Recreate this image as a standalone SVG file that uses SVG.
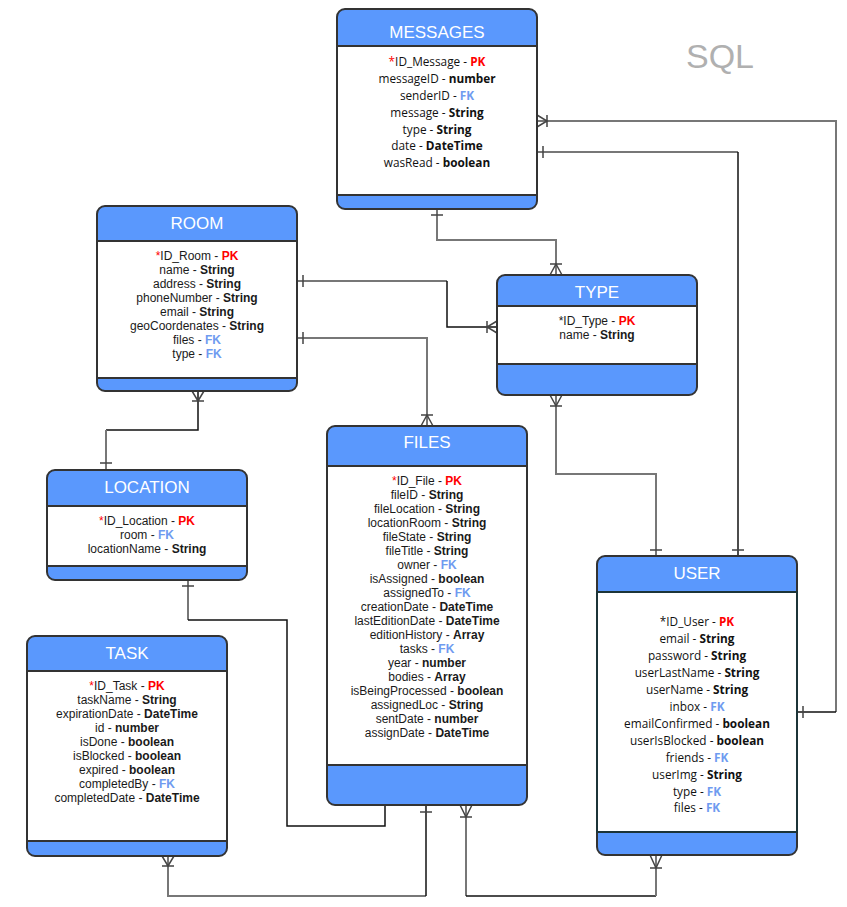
<svg xmlns="http://www.w3.org/2000/svg" width="847" height="907" viewBox="0 0 847 907">
<style>
.hdr{fill:#5a98fd;stroke:#333;stroke-width:2}
.body{fill:#fff;stroke:#333;stroke-width:2}
.ttl{font-family:"Liberation Sans",Arial,sans-serif;font-size:17px;fill:#fff;text-anchor:middle}
.f{font-family:"Liberation Sans",Arial,sans-serif;font-size:12px;fill:#1a1a1a;text-anchor:middle}
.f2{font-family:"Open Sans","Noto Sans",sans-serif;font-size:11.8px;fill:#111;text-anchor:middle}
.b{font-weight:bold}
.pk{font-weight:bold;fill:#ff0000}
.fk{font-weight:bold;fill:#6f9bf0}
.st{fill:#ff0000}
.c{fill:none;stroke:#777;stroke-width:2}
.k{fill:none;stroke:#111;stroke-width:1.5}
.d{fill:none;stroke:#444;stroke-width:1.5}
</style>
<rect width="847" height="907" fill="#fff"/>
<text x="720" y="68" font-family="'Liberation Sans',Arial,sans-serif" font-size="34" fill="#b0b0b0" text-anchor="middle">SQL</text>

<g id="connectors">
<!-- MESSAGES - TYPE -->
<path class="c" d="M437 209V240H556V275"/>
<path class="d" d="M431 215H443M550 264H562M550 275L556 264L562 275"/>
<!-- ROOM - TYPE -->
<path class="c" d="M297 281H447"/>
<path class="k" d="M447 281V327H497"/>
<path class="d" d="M303 275V287M487 321V333M497 321L487 327L497 333"/>
<!-- ROOM - FILES -->
<path class="c" d="M297 338H427V426"/>
<path class="d" d="M303 332V344M421 415H433M421 426L427 415L433 426"/>
<!-- ROOM - LOCATION -->
<path class="k" d="M198 391V430H106"/>
<path class="c" d="M106 430V470"/>
<path class="d" d="M192 401H204M192 391L198 401L204 391M100 463H112"/>
<!-- LOCATION - FILES -->
<path class="c" d="M188 580V620"/>
<path class="k" d="M188 620H287V826H385V805"/>
<path class="d" d="M182 586H194"/>
<!-- TASK - FILES -->
<path class="c" d="M168 856V896H426"/>
<path class="k" d="M426 896V805"/>
<path class="d" d="M162 866H174M162 856L168 866L174 856M420 812H432"/>
<!-- FILES - USER -->
<path class="c" d="M466 805V896"/>
<path class="k" d="M466 896H656"/>
<path class="c" d="M656 896V855"/>
<path class="d" d="M460 817H472M460 805L466 817L472 805M650 868H662M650 855L656 868L662 855"/>
<!-- TYPE - USER -->
<path class="c" d="M556 395V474H656V556"/>
<path class="d" d="M550 406H562M550 395L556 406L562 395M650 550H662"/>
<!-- MESSAGES - USER (inbox) -->
<path class="c" d="M537 121H836V712"/>
<path class="k" d="M836 712H797"/>
<path class="d" d="M547 115V127M537 115L547 121L537 127M803 706V718"/>
<!-- MESSAGES - USER -->
<path class="c" d="M537 152H738"/>
<path class="k" d="M738 152V556"/>
<path class="d" d="M543 146V158M732 550H744"/>
</g>

<g id="messages">
<rect class="hdr" x="337" y="9" width="200" height="200" rx="8"/>
<rect class="body" x="337" y="46" width="200" height="149"/>
<text class="ttl" x="437" y="38">MESSAGES</text>
<text class="f2" x="437" y="66"><tspan class="st">*</tspan>ID_Message - <tspan class="pk">PK</tspan></text>
<text class="f2" x="437" y="83">messageID - <tspan class="b">number</tspan></text>
<text class="f2" x="437" y="100">senderID - <tspan class="fk">FK</tspan></text>
<text class="f2" x="437" y="117">message - <tspan class="b">String</tspan></text>
<text class="f2" x="437" y="134">type - <tspan class="b">String</tspan></text>
<text class="f2" x="437" y="150">date - <tspan class="b">DateTime</tspan></text>
<text class="f2" x="437" y="167">wasRead - <tspan class="b">boolean</tspan></text>
</g>

<g id="room">
<rect class="hdr" x="97" y="206" width="200" height="185" rx="8"/>
<rect class="body" x="97" y="241" width="200" height="137"/>
<text class="ttl" x="197" y="229">ROOM</text>
<text class="f" x="197" y="260"><tspan class="st">*</tspan>ID_Room - <tspan class="pk">PK</tspan></text>
<text class="f" x="197" y="274">name - <tspan class="b">String</tspan></text>
<text class="f" x="197" y="288">address - <tspan class="b">String</tspan></text>
<text class="f" x="197" y="302">phoneNumber - <tspan class="b">String</tspan></text>
<text class="f" x="197" y="316">email - <tspan class="b">String</tspan></text>
<text class="f" x="197" y="330">geoCoordenates - <tspan class="b">String</tspan></text>
<text class="f" x="197" y="344">files - <tspan class="fk">FK</tspan></text>
<text class="f" x="197" y="358">type - <tspan class="fk">FK</tspan></text>
</g>

<g id="type">
<rect class="hdr" x="497" y="275" width="200" height="120" rx="8"/>
<rect class="body" x="497" y="306" width="200" height="58"/>
<text class="ttl" x="597" y="298">TYPE</text>
<text class="f" x="597" y="325">*ID_Type - <tspan class="pk">PK</tspan></text>
<text class="f" x="597" y="339">name - <tspan class="b">String</tspan></text>
</g>

<g id="location">
<rect class="hdr" x="47" y="470" width="200" height="110" rx="8"/>
<rect class="body" x="47" y="506" width="200" height="60"/>
<text class="ttl" x="147" y="493">LOCATION</text>
<text class="f" x="147" y="525"><tspan class="st">*</tspan>ID_Location - <tspan class="pk">PK</tspan></text>
<text class="f" x="147" y="539">room - <tspan class="fk">FK</tspan></text>
<text class="f" x="147" y="553">locationName - <tspan class="b">String</tspan></text>
</g>

<g id="files">
<rect class="hdr" x="327" y="426" width="200" height="379" rx="8"/>
<rect class="body" x="327" y="466" width="200" height="299"/>
<text class="ttl" x="427" y="448">FILES</text>
<text class="f" x="427" y="485"><tspan class="st">*</tspan>ID_File - <tspan class="pk">PK</tspan></text>
<text class="f" x="427" y="499">fileID - <tspan class="b">String</tspan></text>
<text class="f" x="427" y="513">fileLocation - <tspan class="b">String</tspan></text>
<text class="f" x="427" y="527">locationRoom - <tspan class="b">String</tspan></text>
<text class="f" x="427" y="541">fileState - <tspan class="b">String</tspan></text>
<text class="f" x="427" y="555">fileTitle - <tspan class="b">String</tspan></text>
<text class="f" x="427" y="569">owner - <tspan class="fk">FK</tspan></text>
<text class="f" x="427" y="583">isAssigned - <tspan class="b">boolean</tspan></text>
<text class="f" x="427" y="597">assignedTo - <tspan class="fk">FK</tspan></text>
<text class="f" x="427" y="611">creationDate - <tspan class="b">DateTime</tspan></text>
<text class="f" x="427" y="625">lastEditionDate - <tspan class="b">DateTime</tspan></text>
<text class="f" x="427" y="639">editionHistory - <tspan class="b">Array</tspan></text>
<text class="f" x="427" y="653">tasks - <tspan class="fk">FK</tspan></text>
<text class="f" x="427" y="667">year - <tspan class="b">number</tspan></text>
<text class="f" x="427" y="681">bodies - <tspan class="b">Array</tspan></text>
<text class="f" x="427" y="695">isBeingProcessed - <tspan class="b">boolean</tspan></text>
<text class="f" x="427" y="709">assignedLoc - <tspan class="b">String</tspan></text>
<text class="f" x="427" y="723">sentDate - <tspan class="b">number</tspan></text>
<text class="f" x="427" y="737">assignDate - <tspan class="b">DateTime</tspan></text>
</g>

<g id="task">
<rect class="hdr" x="27" y="636" width="200" height="220" rx="8"/>
<rect class="body" x="27" y="671" width="200" height="170"/>
<text class="ttl" x="127" y="659">TASK</text>
<text class="f" x="127" y="690"><tspan class="st">*</tspan>ID_Task - <tspan class="pk">PK</tspan></text>
<text class="f" x="127" y="704">taskName - <tspan class="b">String</tspan></text>
<text class="f" x="127" y="718">expirationDate - <tspan class="b">DateTime</tspan></text>
<text class="f" x="127" y="732">id - <tspan class="b">number</tspan></text>
<text class="f" x="127" y="746">isDone - <tspan class="b">boolean</tspan></text>
<text class="f" x="127" y="760">isBlocked - <tspan class="b">boolean</tspan></text>
<text class="f" x="127" y="774">expired - <tspan class="b">boolean</tspan></text>
<text class="f" x="127" y="788">completedBy - <tspan class="fk">FK</tspan></text>
<text class="f" x="127" y="802">completedDate - <tspan class="b">DateTime</tspan></text>
</g>

<g id="user">
<rect class="hdr" x="597" y="556" width="200" height="299" rx="8"/>
<rect class="body" x="597" y="592" width="200" height="240" style="stroke:#1c3438"/>
<text class="ttl" x="697" y="579">USER</text>
<text class="f2" x="697" y="626">*ID_User - <tspan class="pk">PK</tspan></text>
<text class="f2" x="697" y="643">email - <tspan class="b">String</tspan></text>
<text class="f2" x="697" y="660">password - <tspan class="b">String</tspan></text>
<text class="f2" x="697" y="677">userLastName - <tspan class="b">String</tspan></text>
<text class="f2" x="697" y="694">userName - <tspan class="b">String</tspan></text>
<text class="f2" x="697" y="711">inbox - <tspan class="fk">FK</tspan></text>
<text class="f2" x="697" y="728">emailConfirmed - <tspan class="b">boolean</tspan></text>
<text class="f2" x="697" y="745">userIsBlocked - <tspan class="b">boolean</tspan></text>
<text class="f2" x="697" y="762">friends - <tspan class="fk">FK</tspan></text>
<text class="f2" x="697" y="779">userImg - <tspan class="b">String</tspan></text>
<text class="f2" x="697" y="796">type - <tspan class="fk">FK</tspan></text>
<text class="f2" x="697" y="812">files - <tspan class="fk">FK</tspan></text>
</g>
</svg>
